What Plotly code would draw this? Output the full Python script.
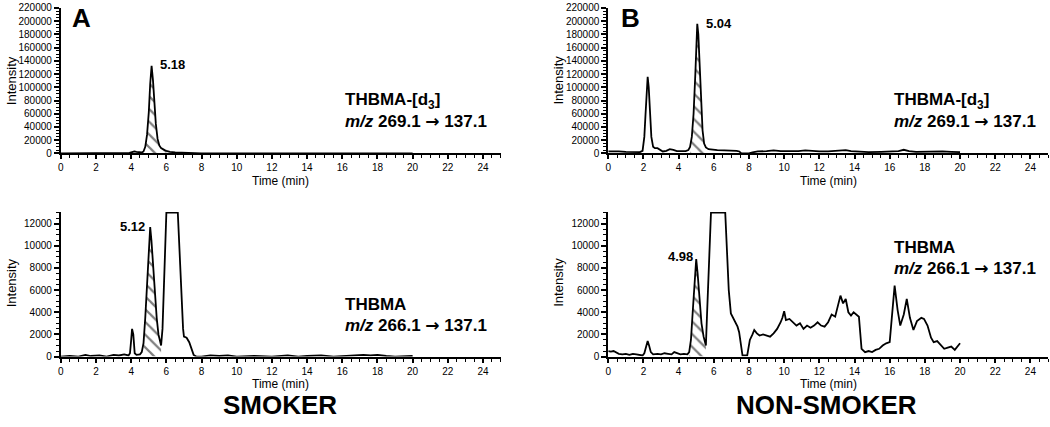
import numpy as np
import plotly.graph_objects as go

W, H = 1050, 427
FONT = "Liberation Sans, Arial, sans-serif"

# ---------------- data ----------------
# Panel A (smoker), THBMA-[d3], m/z 269.1 -> 137.1
a_top_t = [0, 0.5, 1.0, 1.5, 2.0, 2.5, 3.0, 3.5, 3.9, 4.05, 4.18, 4.3, 4.45, 4.6, 4.7, 4.8, 4.9,
           5.0, 5.08, 5.16, 5.24, 5.32, 5.4, 5.5, 5.6, 5.7, 5.8, 5.9, 6.0, 6.2, 6.5, 6.8, 7.0,
           7.2, 7.6, 8.0, 9.0, 10.0, 11.0, 12.0, 13.0, 14.0, 15.0, 16.0, 17.0, 18.0, 19.0, 20.0]
a_top_i = [0, 200, 300, 200, 300, 200, 300, 500, 800, 2000, 3000, 2500, 1500, 1500, 3000, 10000, 28000,
           62000, 105000, 132500, 110000, 75000, 45000, 22000, 12000, 8000, 6000, 5000, 4000, 2500, 1500, 1000, 800,
           300, 200, 100, 200, 100, 200, 100, 200, 100, 200, 100, 200, 100, 200, 100]
a_top_hatch = (4.7, 6.0)

# Panel A (smoker), THBMA, m/z 266.1 -> 137.1
a_bot_t = [0, 0.5, 1.0, 1.4, 1.7, 2.2, 2.6, 3.0, 3.3, 3.6, 3.85, 3.93, 4.0, 4.05, 4.12, 4.2, 4.3, 4.5,
           4.6, 4.7, 4.8, 4.9, 5.0, 5.08, 5.15, 5.25, 5.35, 5.45, 5.55, 5.65, 5.7, 5.78, 5.85, 5.92,
           6.0, 6.65, 6.75, 6.85, 6.95, 7.0, 7.15, 7.3, 7.45, 7.55, 7.7, 8.0, 8.5, 9.0, 9.5, 10.0,
           11.0, 12.0, 12.9, 13.5, 14.0, 14.8, 15.5, 16.0, 16.6, 17.2, 17.6, 18.0, 18.5, 19.0, 20.0]
a_bot_i = [0, 50, 0, 150, 50, 100, 0, 150, 100, 200, 100, 300, 1500, 2500, 2000, 300, 150, 200,
           400, 1200, 3500, 6500, 9500, 11700, 10500, 8000, 5500, 3500, 2000, 1200, 1000, 2500, 6000, 10000,
           13000, 13000, 9000, 5500, 2500, 1800, 1700, 1300, 700, 150, 0, 0, 100, 50, 100, 0,
           50, 0, 100, 0, 50, 100, 0, 50, 100, 150, 100, 150, 50, 0, 50]
a_bot_hatch = (4.7, 5.7)

# Panel B (non-smoker), THBMA-[d3]
b_top_t = [0, 0.3, 0.6, 1.0, 1.4, 1.8, 1.95, 2.05, 2.12, 2.18, 2.24, 2.3, 2.37, 2.45, 2.55, 2.65, 2.8,
           2.95, 3.1, 3.3, 3.5, 3.7, 3.9, 4.2, 4.4, 4.55, 4.65, 4.75, 4.85, 4.95, 5.0, 5.06, 5.12,
           5.2, 5.28, 5.36, 5.45, 5.55, 5.7, 5.9, 6.2, 6.6, 7.0, 7.3, 7.45, 7.55, 7.7, 8.0, 8.2,
           8.5, 9.0, 9.4, 9.8, 10.3, 10.8, 11.2, 11.6, 12.0, 12.5, 13.0, 13.5, 13.8, 14.3, 14.8,
           15.5, 16.0, 16.5, 16.8, 17.1, 17.5, 18.0, 18.5, 19.0, 19.5, 20.0]
b_top_i = [3000, 3500, 3000, 2500, 2500, 2000, 4000, 25000, 60000, 100000, 116000, 100000, 60000, 25000, 10000, 8000, 8000,
           6000, 3000, 4000, 6500, 5500, 3500, 3500, 3500, 5000, 10000, 25000, 60000, 120000, 165000, 196000, 180000,
           130000, 75000, 35000, 15000, 9000, 6500, 5500, 5000, 4500, 4500, 4000, 3000, 500, 0, 0, 1500,
           3000, 3500, 4500, 3500, 3000, 3500, 4500, 3500, 3000, 3000, 3500, 5000, 3500, 3000, 2000,
           2500, 3000, 3500, 5500, 3500, 2500, 3000, 2500, 3000, 2500, 2000]
b_top_hatch = (4.65, 5.55)

# Panel B (non-smoker), THBMA
b_bot_t = [0, 0.15, 0.3, 0.45, 0.6, 0.8, 1.0, 1.2, 1.4, 1.6, 1.8, 1.95, 2.05, 2.15, 2.24, 2.32, 2.42,
           2.55, 2.8, 3.0, 3.2, 3.4, 3.6, 3.75, 3.9, 4.1, 4.3, 4.5, 4.6, 4.7, 4.8, 4.9, 5.0, 5.08,
           5.2, 5.3, 5.42, 5.5, 5.55, 5.62, 5.7, 5.78, 5.84, 6.65, 6.75, 6.85, 6.97, 7.1, 7.25, 7.35,
           7.44, 7.55, 7.63, 7.9, 8.05, 8.2, 8.3, 8.45, 8.6, 8.8, 9.0, 9.2, 9.4, 9.6, 9.8, 9.9, 10.0,
           10.1, 10.3, 10.5, 10.7, 10.9, 11.1, 11.3, 11.5, 11.7, 11.9, 12.1, 12.3, 12.5, 12.7, 12.9,
           13.1, 13.2, 13.35, 13.5, 13.65, 13.8, 13.95, 14.1, 14.25, 14.4, 14.6, 14.8, 15.0, 15.2,
           15.4, 15.6, 15.8, 16.0, 16.1, 16.28, 16.45, 16.6, 16.8, 16.97, 17.15, 17.35, 17.55, 17.8,
           17.95, 18.15, 18.35, 18.5, 18.7, 18.9, 19.1, 19.3, 19.5, 19.7, 19.85, 20.0]
b_bot_i = [500, 450, 500, 350, 250, 200, 250, 150, 250, 200, 150, 100, 300, 1000, 1400, 1000, 400,
           200, 250, 200, 300, 250, 200, 400, 300, 200, 250, 200, 400, 1500, 4000, 7000, 8800, 7500,
           5000, 3000, 1800, 1100, 1000, 4000, 8000, 11500, 13000, 13000, 9000, 6000, 3900, 3500, 3100, 2700,
           2200, 1000, 100, 100, 1500, 2000, 2400, 2100, 1900, 2000, 1900, 1800, 2100, 2500, 3100, 3500, 4100,
           3300, 3400, 3100, 2800, 3000, 2500, 2800, 2600, 2800, 3100, 2800, 2700, 3100, 3800, 3600,
           4800, 5500, 4800, 5200, 4000, 3700, 4000, 3800, 3600, 700, 400, 500, 400, 600,
           700, 1000, 1200, 1300, 3000, 6400, 4200, 2800, 3800, 5200, 3500, 2400, 3200, 3500,
           3400, 2800, 1700, 1300, 1400, 1000, 700, 800, 900, 600, 900, 1200]
b_bot_hatch = (4.6, 5.55)

x_ticks = list(range(0, 26, 2))

# ---------------- layout helpers ----------------
def px(x):
    return x / W

def py(y):
    return 1 - y / H

XA = (px(58), px(499))
XB = (px(607), px(1048))
YT = (py(152), py(3))
YB = (py(360), py(212))

fig = go.Figure()

panels = [
    ("x", "y", a_top_t, a_top_i, a_top_hatch),
    ("x2", "y2", b_top_t, b_top_i, b_top_hatch),
    ("x3", "y3", a_bot_t, a_bot_i, a_bot_hatch),
    ("x4", "y4", b_bot_t, b_bot_i, b_bot_hatch),
]

for xa, ya, t, inten, (h0, h1) in panels:
    t_arr = np.array(t)
    i_arr = np.array(inten)
    m = (t_arr >= h0 - 1e-9) & (t_arr <= h1 + 1e-9)
    fig.add_trace(go.Scatter(
        x=t_arr[m], y=i_arr[m], xaxis=xa, yaxis=ya, mode="lines",
        line=dict(width=0, color="black"), fill="tozeroy", fillcolor="white",
        fillpattern=dict(shape="\\", fgcolor="black", bgcolor="white", size=9, solidity=0.25),
        hoverinfo="skip", showlegend=False))
    fig.add_trace(go.Scatter(
        x=t, y=inten, xaxis=xa, yaxis=ya, mode="lines",
        line=dict(color="black", width=1.8), showlegend=False))

def xaxis_cfg(domain, anchor):
    return dict(domain=list(domain), anchor=anchor, range=[0, 25], tickmode="array",
                tickvals=x_ticks, ticktext=[str(v) for v in x_ticks],
                ticks="outside", ticklen=4, tickwidth=1.5, tickcolor="black",
                minor=dict(dtick=0.5, tick0=0, ticks="outside", ticklen=3, tickwidth=1.2, tickcolor="black"),
                showline=True, linewidth=2, linecolor="black", showgrid=False, zeroline=False,
                ticklabeloverflow="allow",
                tickfont=dict(family=FONT, size=10, color="black"))

def yaxis_cfg(domain, anchor, rng, dtick, minor):
    return dict(domain=list(domain), anchor=anchor, range=rng, dtick=dtick, tick0=0,
                tickformat="d", ticks="outside", ticklen=5, tickwidth=1.5, tickcolor="black",
                minor=dict(dtick=minor, tick0=0, ticks="outside", ticklen=3, tickwidth=1.2, tickcolor="black"),
                showline=True, linewidth=2, linecolor="black", showgrid=False, zeroline=False,
                ticklabeloverflow="allow",
                tickfont=dict(family=FONT, size=10, color="black"))

fig.update_layout(
    width=W, height=H, margin=dict(l=0, r=0, t=0, b=0),
    paper_bgcolor="white", plot_bgcolor="white",
    xaxis=xaxis_cfg(XA, "y"),
    xaxis2=xaxis_cfg(XB, "y2"),
    xaxis3=xaxis_cfg(XA, "y3"),
    xaxis4=xaxis_cfg(XB, "y4"),
    yaxis=yaxis_cfg(YT, "x", [0, 220000], 20000, 5000),
    yaxis2=yaxis_cfg(YT, "x2", [0, 220000], 20000, 5000),
    yaxis3=yaxis_cfg(YB, "x3", [0, 13050], 2000, 500),
    yaxis4=yaxis_cfg(YB, "x4", [0, 13050], 2000, 500),
)

ann = []

def text(x, y, s, size, bold=False, xanchor="center", yanchor="middle", angle=0):
    if bold:
        s = "<b>" + s + "</b>"
    ann.append(dict(x=px(x), y=py(y), xref="paper", yref="paper", text=s, showarrow=False,
                    xanchor=xanchor, yanchor=yanchor, textangle=angle,
                    font=dict(family=FONT, size=size, color="black")))

ARROW = "<span style='font-family:DejaVu Sans'>→</span>"

# panel letters
text(67, 13, "A", 26, True, xanchor="left")
text(618, 13, "B", 26, True, xanchor="left")

# peak labels
text(155, 61, "5.18", 13, True, xanchor="left")
text(703, 19, "5.04", 13, True, xanchor="left")
text(144, 227, "5.12", 13, True, xanchor="right")
text(694, 258, "4.98", 13, True, xanchor="right")

# compound labels
for x0, y1, y2, name, trans in [
    (341, 98, 119, "THBMA-[d<sub>3</sub>]", "<i>m/z</i> 269.1 " + ARROW + " 137.1"),
    (892, 98, 119, "THBMA-[d<sub>3</sub>]", "<i>m/z</i> 269.1 " + ARROW + " 137.1"),
    (341, 307, 328, "THBMA", "<i>m/z</i> 266.1 " + ARROW + " 137.1"),
    (892, 248, 269, "THBMA", "<i>m/z</i> 266.1 " + ARROW + " 137.1"),
]:
    text(x0, y1, name, 17, True, xanchor="left")
    text(x0, y2, trans, 17, True, xanchor="left")

# axis titles
for xc in (8, 557):
    text(xc, 77, "Intensity", 13, angle=-90)
    text(xc, 284, "Intensity", 13, angle=-90)
for xc in (278.5, 827.5):
    text(xc, 180, "Time (min)", 12)
    text(xc, 388, "Time (min)", 12)

# group labels
text(278, 410, "SMOKER", 26, True)
text(826, 410, "NON-SMOKER", 26, True)

fig.update_layout(annotations=ann)

fig.write_html("out.html", config={"displayModeBar": False},
               post_script="document.body.style.margin='0';document.body.style.overflow='hidden';")
